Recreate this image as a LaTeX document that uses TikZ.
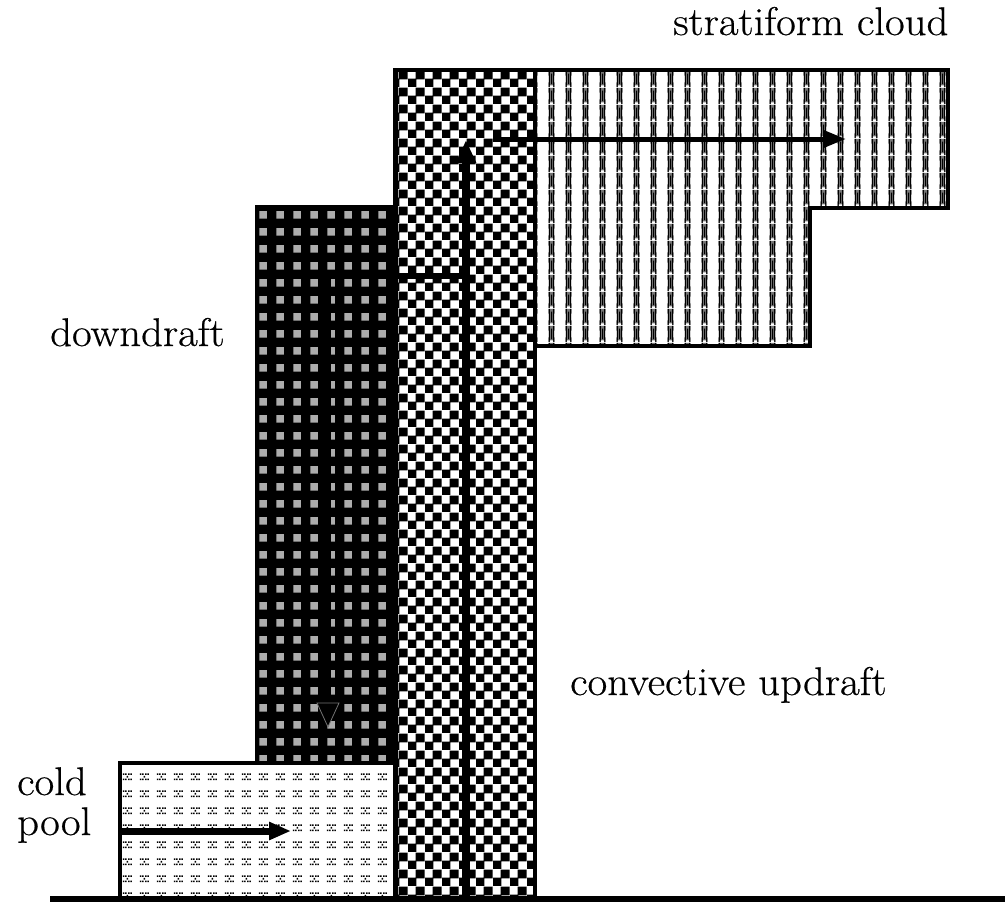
\documentclass[tikz,border=0pt]{standalone}
\usepackage{fontspec}
\usetikzlibrary{patterns,arrows.meta}
\newfontfamily\lblfont{Latin Modern Roman}[FakeBold=0.5]
% checkerboard (updraft)
\pgfdeclarepatternformonly{chk}{\pgfpointorigin}{\pgfpoint{17pt}{17pt}}{\pgfpoint{17pt}{17pt}}{%
  \pgfpathrectangle{\pgfpoint{-0.4pt}{-0.4pt}}{\pgfpoint{9.3pt}{9.3pt}}%
  \pgfpathrectangle{\pgfpoint{8.1pt}{8.1pt}}{\pgfpoint{9.3pt}{9.3pt}}%
  \pgfusepath{fill}}
% gray blobs (downdraft)
\pgfdeclarepatternformonly{blobs}{\pgfpointorigin}{\pgfpoint{17pt}{17pt}}{\pgfpoint{17pt}{17pt}}{%
  \pgfpathrectangle{\pgfpoint{4.5pt}{4.5pt}}{\pgfpoint{8pt}{8pt}}%
  \pgfusepath{fill}}
% dot clusters (cold pool)
\pgfdeclarepatternformonly{clus}{\pgfpointorigin}{\pgfpoint{17pt}{17pt}}{\pgfpoint{17pt}{17pt}}{%
  \pgfpathrectangle{\pgfpoint{4pt}{4pt}}{\pgfpoint{1.7pt}{1.7pt}}%
  \pgfpathrectangle{\pgfpoint{6.4pt}{4pt}}{\pgfpoint{1.7pt}{1.7pt}}%
  \pgfpathrectangle{\pgfpoint{9.6pt}{4pt}}{\pgfpoint{1.7pt}{1.7pt}}%
  \pgfpathrectangle{\pgfpoint{12pt}{4pt}}{\pgfpoint{1.7pt}{1.7pt}}%
  \pgfpathrectangle{\pgfpoint{8pt}{6.8pt}}{\pgfpoint{1.7pt}{1.7pt}}%
  \pgfpathrectangle{\pgfpoint{4pt}{9.6pt}}{\pgfpoint{1.7pt}{1.7pt}}%
  \pgfpathrectangle{\pgfpoint{6.4pt}{9.6pt}}{\pgfpoint{1.7pt}{1.7pt}}%
  \pgfpathrectangle{\pgfpoint{9.6pt}{9.6pt}}{\pgfpoint{1.7pt}{1.7pt}}%
  \pgfpathrectangle{\pgfpoint{12pt}{9.6pt}}{\pgfpoint{1.7pt}{1.7pt}}%
  \pgfusepath{fill}}
% chained vertical stripes (stratiform)
\pgfdeclarepatterninherentlycolored{chain}{\pgfpointorigin}{\pgfpoint{17pt}{17pt}}{\pgfpoint{17pt}{17pt}}{%
  \pgfsetfillcolor{black!55}%
  \pgfpathrectangle{\pgfpoint{5pt}{0pt}}{\pgfpoint{6pt}{17pt}}\pgfusepath{fill}%
  \pgfsetfillcolor{black}%
  \pgfpathrectangle{\pgfpoint{5pt}{0pt}}{\pgfpoint{1.3pt}{17pt}}%
  \pgfpathrectangle{\pgfpoint{9.7pt}{0pt}}{\pgfpoint{1.3pt}{17pt}}%
  \pgfpathrectangle{\pgfpoint{7.4pt}{3pt}}{\pgfpoint{1.2pt}{11pt}}%
  \pgfusepath{fill}%
  \pgfsetfillcolor{white}%
  \pgfpathrectangle{\pgfpoint{6.3pt}{0pt}}{\pgfpoint{3.4pt}{1.8pt}}%
  \pgfpathrectangle{\pgfpoint{4pt}{5pt}}{\pgfpoint{1pt}{7pt}}%
  \pgfpathrectangle{\pgfpoint{11pt}{5pt}}{\pgfpoint{1pt}{7pt}}%
  \pgfusepath{fill}}
\tikzset{
  outline/.style={draw=black,line width=4.5pt,line join=miter},
  lbl/.style={font=\lblfont\fontsize{40}{46}\selectfont,inner sep=0pt,anchor=base west},
  flow/.style={line width=#1,draw=black},
}
\newcommand{\wide}[1]{\scalebox{1.07}[1]{#1}}
\begin{document}
\begin{tikzpicture}[x=1pt,y=-1pt]
\useasboundingbox (0,0) rectangle (1005,903);
% --- shape corners
\coordinate (uTL) at (395.5,70); \coordinate (uBR) at (535,899);
\coordinate (dTL) at (257,207);  \coordinate (dBR) at (395.5,763);
\coordinate (cTL) at (120,763);  \coordinate (cBR) at (395.5,899);
% --- fills
\fill[white] (uTL) rectangle (uBR);
\fill[pattern=chk,pattern color=black] (uTL) rectangle (uBR);
\fill[black] (dTL) rectangle (dBR);
\fill[pattern=blobs,pattern color=black!32] (dTL) rectangle (dBR);
\fill[pattern=clus,pattern color=black] (cTL) rectangle (cBR);
\path[pattern=chain] (535,70) -- (948,70) -- (948,208) -- (810,208) -- (810,346) -- (535,346) -- cycle;
% --- outlines
\draw[outline] (535,70) -- (948,70) -- (948,208) -- (810,208) -- (810,346) -- (535,346);
\draw[outline] (uTL) rectangle (uBR);
\draw[outline] (dTL) rectangle (dBR);
\draw[outline] (cTL) rectangle (cBR);
% --- flow arrows
\coordinate (upS) at (466,899); \coordinate (upE) at (466,140);
\draw[flow=8pt,-{Triangle[length=23pt,width=19pt]}] (upS) -- (upE);
\coordinate (outS) at (493,139); \coordinate (outE) at (846,139);
\draw[flow=5pt,-{Triangle[length=23pt,width=17pt]}] (outS) -- (outE);
\coordinate (ddS) at (466,276); \coordinate (ddC) at (328,276); \coordinate (ddE) at (328,727);
\draw[flow=6pt,-{Triangle[length=24pt,width=20pt]}] (ddS) -- (ddC) -- (ddE);
\draw[black!55,line width=0.8pt] (317,703) -- (339,703) -- (328,727) -- cycle;
\coordinate (cpS) at (120,831); \coordinate (cpE) at (291,831);
\draw[flow=7pt,-{Triangle[length=22pt,width=17pt]}] (cpS) -- (cpE);
% --- ground
\coordinate (g1) at (50,899); \coordinate (g2) at (1005,899);
\draw[line width=6pt] (g1) -- (g2);
% --- labels
\node[lbl] (lstrat) at (673,35) {\wide{stratiform cloud}};
\node[lbl] (ldown) at (50,346) {\wide{downdraft}};
\node[lbl] (lconv) at (570,695) {\wide{convective updraft}};
\node[lbl] (lcold) at (17,795) {\wide{cold}};
\node[lbl] (lpool) at (17,835) {\wide{pool}};
\end{tikzpicture}
\end{document}
